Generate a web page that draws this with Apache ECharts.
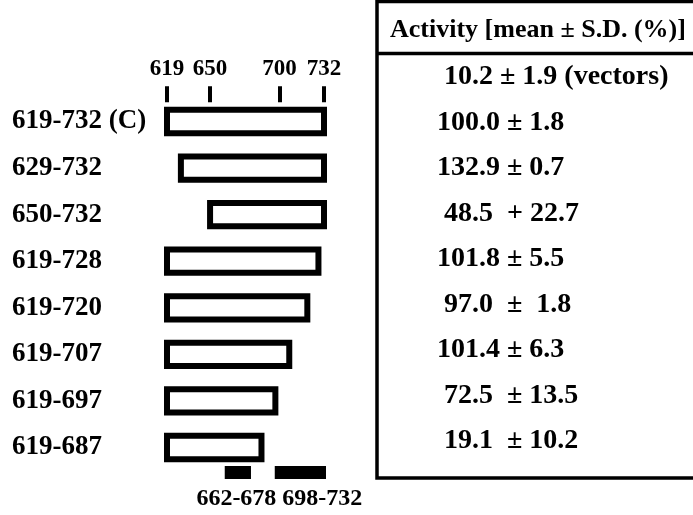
<!DOCTYPE html>
<html>
<head>
<meta charset="utf-8">
<script src="https://cdn.jsdelivr.net/npm/echarts@6/dist/echarts.min.js"></script>
<style>
  html, body { margin: 0; padding: 0; background: #fff; }
  #main { width: 693px; height: 515px; }
</style>
</head>
<body>
<div id="main"></div>
<script>
// deletion constructs (residues), top to bottom
var constructs = ['619-732 (C)', '629-732', '650-732', '619-728', '619-720', '619-707', '619-697', '619-687'];
var starts = [619, 629, 650, 619, 619, 619, 619, 619];
var ends = [732, 732, 732, 728, 720, 707, 697, 687];

// scale ticks on top
var tickValues = [619, 650, 700, 732];

// small fragments drawn under the bars
var fragNames = ['662-678', '698-732'];
var fragStarts = [662, 698];
var fragEnds = [678, 732];

// activity column (first line is the vector control)
var activity = [
    ' 10.2 \u00b1 1.9 (vectors)',
    '100.0 \u00b1 1.8',
    '132.9 \u00b1 0.7',
    ' 48.5  + 22.7',
    '101.8 \u00b1 5.5',
    ' 97.0  \u00b1  1.8',
    '101.4 \u00b1 6.3',
    ' 72.5  \u00b1 13.5',
    ' 19.1  \u00b1 10.2'
];

var serif = "'Liberation Serif', 'Times New Roman', serif";

var barData = constructs.map(function (c, i) {
    return [starts[i], ends[i], i];
});
var fragData = fragNames.map(function (n, i) {
    return { name: n, value: [fragStarts[i], fragEnds[i], 0] };
});
var fragMid = (Math.min.apply(null, fragStarts) + Math.max.apply(null, fragEnds)) / 2;

var myChart = echarts.init(document.getElementById('main'));

var option = {
    animation: false,
    backgroundColor: '#fff',
    title: {
        text: 'Activity [mean \u00b1 S.D. (%)]',
        left: 390,
        top: 17,
        padding: 0,
        textStyle: { fontFamily: serif, fontSize: 26, fontWeight: 'bold', color: '#000' }
    },
    graphic: [
        {
            type: 'rect',
            shape: { x: 377, y: 1.5, width: 340, height: 476.5 },
            style: { fill: 'none', stroke: '#000', lineWidth: 3.5 }
        },
        {
            type: 'line',
            shape: { x1: 377, y1: 53.5, x2: 700, y2: 53.5 },
            style: { stroke: '#000', lineWidth: 3.5 }
        }
    ],
    grid: [
        { left: 167, width: 157, top: 98.2, height: 372.6 },
        { left: 167, width: 157, top: 468, height: 9 },
        { left: 377, right: 0, top: 54.25, height: 409.5 }
    ],
    xAxis: [
        {
            gridIndex: 0,
            type: 'value',
            position: 'top',
            min: 619,
            max: 732,
            offset: -4,
            axisLine: { show: false },
            splitLine: { show: false },
            axisTick: {
                show: true,
                customValues: tickValues,
                length: 16,
                lineStyle: { color: '#000', width: 4 }
            },
            axisLabel: {
                customValues: tickValues,
                margin: 22,
                fontFamily: serif,
                fontSize: 23,
                fontWeight: 'bold',
                color: '#000'
            }
        },
        { gridIndex: 1, type: 'value', min: 619, max: 732, show: false },
        { gridIndex: 2, type: 'value', min: 0, max: 1, show: false }
    ],
    yAxis: [
        {
            gridIndex: 0,
            type: 'category',
            data: constructs,
            inverse: true,
            axisLine: { show: false },
            axisTick: { show: false },
            axisLabel: {
                align: 'left',
                margin: 155,
                fontFamily: serif,
                fontSize: 27,
                fontWeight: 'bold',
                color: '#000'
            }
        },
        { gridIndex: 1, type: 'category', data: ['frag'], show: false },
        {
            gridIndex: 2,
            type: 'category',
            data: activity,
            inverse: true,
            axisLine: { show: false },
            axisTick: { show: false },
            axisLabel: {
                inside: true,
                align: 'left',
                margin: 60,
                fontFamily: serif,
                fontSize: 28,
                fontWeight: 'bold',
                color: '#000'
            }
        }
    ],
    series: [
        {
            type: 'custom',
            xAxisIndex: 0,
            yAxisIndex: 0,
            encode: { x: [0, 1], y: 2 },
            data: barData,
            renderItem: function (params, api) {
                var s = api.coord([api.value(0), api.value(2)]);
                var e = api.coord([api.value(1), api.value(2)]);
                var h = api.size([0, 1])[1] * 0.5;
                return {
                    type: 'rect',
                    shape: { x: s[0], y: s[1] - h / 2, width: e[0] - s[0], height: h },
                    style: { fill: '#fff', stroke: '#000', lineWidth: 6 }
                };
            }
        },
        {
            type: 'custom',
            xAxisIndex: 1,
            yAxisIndex: 1,
            encode: { x: [0, 1], y: 2 },
            data: fragData,
            renderItem: function (params, api) {
                var s = api.coord([api.value(0), api.value(2)]);
                var e = api.coord([api.value(1), api.value(2)]);
                var h = api.size([0, 1])[1];
                var children = [{
                    type: 'rect',
                    shape: { x: s[0], y: s[1] - h / 2, width: e[0] - s[0], height: h },
                    style: { fill: '#000', stroke: '#000', lineWidth: 4 }
                }];
                // one caption line under both fragments
                if (params.dataIndex === fragNames.length - 1) {
                    var m = api.coord([fragMid, api.value(2)]);
                    children.push({
                        type: 'text',
                        x: m[0] + 4,
                        y: m[1] + 26,
                        style: {
                            text: fragNames.join(' '),
                            fontFamily: serif,
                            fontSize: 24,
                            fontWeight: 'bold',
                            fill: '#000',
                            align: 'center',
                            verticalAlign: 'middle'
                        }
                    });
                }
                return { type: 'group', children: children };
            }
        }
    ]
};

myChart.setOption(option);
</script>
</body>
</html>
